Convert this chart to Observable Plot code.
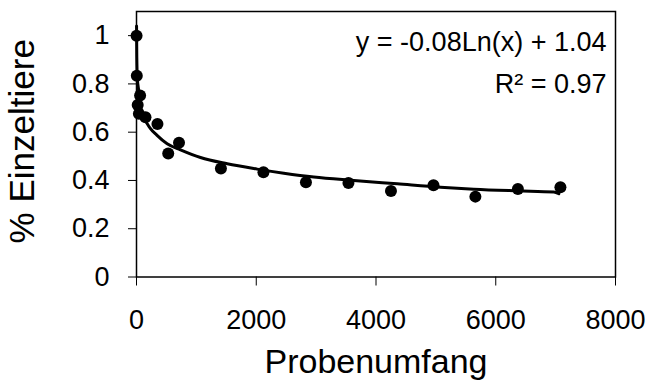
<!DOCTYPE html>
<html>
<head>
<meta charset="utf-8">
<script src="https://cdn.jsdelivr.net/npm/d3@7"></script>
<script src="https://cdn.jsdelivr.net/npm/@observablehq/plot@0.6"></script>
<style>
  html, body { margin: 0; padding: 0; background: #fff; }
</style>
</head>
<body>
<div id="chart"></div>
<script>
// Observed data points
const probenumfang = [1, 5, 60, 20, 40, 150, 350, 530, 710, 1410, 2120, 2830, 3540, 4250, 4960, 5660, 6370, 7080];
const einzeltiere  = [1.0, 0.834, 0.752, 0.713, 0.676, 0.662, 0.634, 0.512, 0.556, 0.450, 0.434, 0.393, 0.389, 0.356, 0.380, 0.333, 0.365, 0.372];

// Trend line
const trendX = [1, 5, 15, 33, 60, 117, 234, 339, 512, 735, 1069, 1515, 2016, 2460, 2961, 3630, 4354, 5077, 5634, 6358, 6970, 7053];
const trendY = [1.04, 0.91, 0.82, 0.78, 0.72, 0.667, 0.615, 0.588, 0.552, 0.527, 0.495, 0.469, 0.447, 0.430, 0.414, 0.400, 0.386, 0.372, 0.364, 0.357, 0.352, 0.345];

const xTicks = [0, 2000, 4000, 6000, 8000];
const yTicks = [0, 0.2, 0.4, 0.6, 0.8, 1];
const xTitle = "Probenumfang";
const yTitle = "% Einzeltiere";
const equationLines = ["y = -0.08Ln(x) + 1.04", "R² = 0.97"];

const points = probenumfang.map((x, i) => ({x, y: einzeltiere[i]}));
const trend = trendX.map((x, i) => ({x, y: trendY[i]}));

const chart = Plot.plot({
  width: 650,
  height: 392,
  marginLeft: 136,
  marginRight: 35,
  marginTop: 11,
  marginBottom: 115.5,
  style: {fontFamily: "'Liberation Sans', Arial, sans-serif", fontSize: "27px", color: "#000", background: "#fff"},
  x: {domain: [0, 8000], ticks: xTicks, tickSize: 9, tickPadding: 24, tickFormat: d => String(d), label: null},
  y: {domain: [0, 1.1], ticks: yTicks, tickSize: 8, tickPadding: 19, tickFormat: d => String(d), label: null},
  marks: [
    Plot.frame({stroke: "#000", strokeWidth: 1.5}),
    Plot.line(trend, {x: "x", y: "y", stroke: "#000", strokeWidth: 3, curve: "monotone-x"}),
    Plot.dot(points, {x: "x", y: "y", r: 6, fill: "#000", stroke: "none"}),
    Plot.text([equationLines[0]], {frameAnchor: "top-right", dx: -9, dy: 20, textAnchor: "end", fontSize: 27}),
    Plot.text([equationLines[1]], {frameAnchor: "top-right", dx: -9, dy: 62, textAnchor: "end", fontSize: 27}),
    Plot.text([xTitle], {frameAnchor: "bottom", dy: 96, fontSize: 34}),
    Plot.text([yTitle], {frameAnchor: "left", textAnchor: "middle", dx: -114, dy: -3, rotate: -90, fontSize: 35})
  ]
});
document.getElementById("chart").appendChild(chart);
</script>
</body>
</html>
